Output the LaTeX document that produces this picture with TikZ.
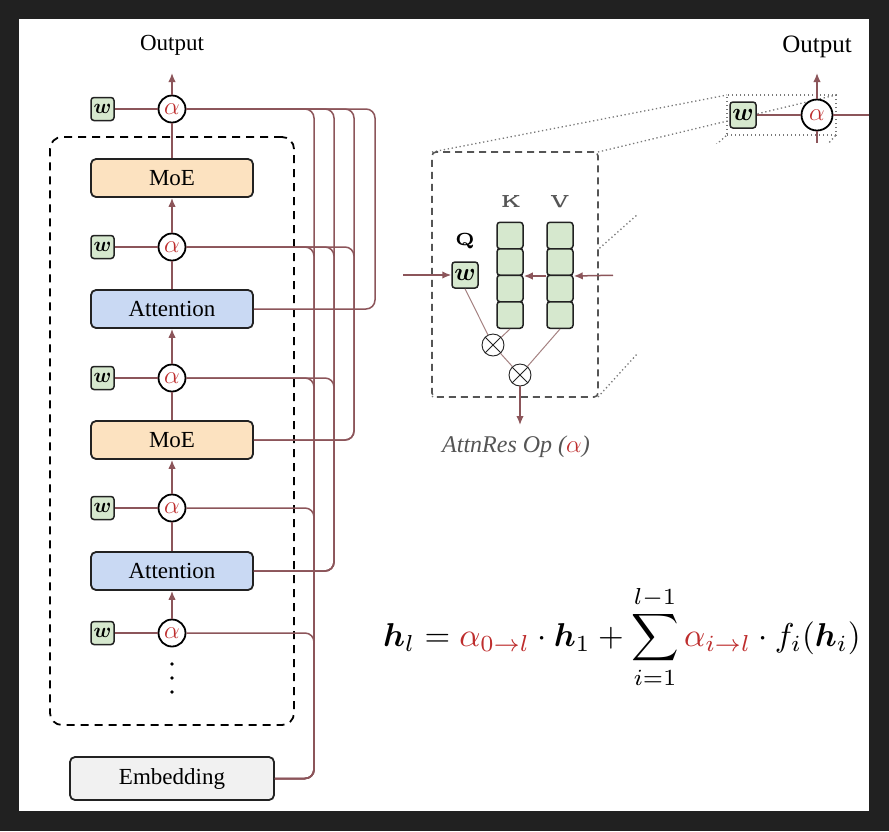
\documentclass[tikz,border=0pt]{standalone}
\usepackage[no-math]{fontspec}
\setmainfont{Liberation Serif}
\usepackage{amsmath,bm}
\usetikzlibrary{arrows.meta,calc}
\definecolor{framec}{RGB}{33,33,33}
\definecolor{linec}{RGB}{140,85,90}
\definecolor{alphared}{RGB}{190,45,45}
\definecolor{moefill}{RGB}{252,226,192}
\definecolor{attfill}{RGB}{201,217,243}
\definecolor{wfill}{RGB}{214,232,206}
\definecolor{embfill}{RGB}{241,241,241}
\definecolor{boxline}{RGB}{34,34,34}
\definecolor{insetgray}{RGB}{85,85,85}
\definecolor{dotgray}{RGB}{120,120,120}
\definecolor{thinline}{RGB}{165,130,130}
\tikzset{
  block/.style={draw=boxline, line width=1.8pt, rounded corners=5pt, minimum width=162pt, minimum height=38pt, font=\fontsize{23}{26}\selectfont, inner sep=0pt},
  moebox/.style={block, fill=moefill},
  attbox/.style={block, fill=attfill},
  embbox/.style={block, fill=embfill, minimum width=204pt, minimum height=43pt},
  wbox/.style={draw=boxline, line width=1.5pt, fill=wfill, rounded corners=3pt, minimum size=23pt, inner sep=0pt, font=\fontsize{21}{21}\selectfont},
  cell/.style={draw=boxline, line width=1.5pt, fill=wfill, rounded corners=3pt, minimum width=26pt, minimum height=26.5pt, inner sep=0pt},
  anode/.style={circle, draw=black, line width=1.8pt, fill=white, minimum size=27pt, inner sep=0pt, font=\fontsize{25}{25}\selectfont, text=alphared},
  otimesnode/.style={circle, draw=boxline, line width=0.9pt, fill=white, minimum size=22pt, inner sep=0pt},
  conn/.style={draw=linec, line width=1.5pt},
  arr/.style={conn, -{Latex[length=9pt,width=7.5pt]}},
  bus/.style={conn, rounded corners=9pt},
  thinconn/.style={draw=thinline, line width=1pt},
  groupbox/.style={draw=black, line width=1.8pt, dash pattern=on 8pt off 6pt, rounded corners=12pt, minimum width=244pt, minimum height=588pt, inner sep=0pt},
  insetbox/.style={draw=insetgray, fill=white, line width=1.6pt, dash pattern=on 7pt off 5pt, rounded corners=4pt, minimum width=166pt, minimum height=245pt, inner sep=0pt},
  zoomrect/.style={draw=dotgray, line width=1.3pt, dash pattern=on 1.3pt off 2.7pt, minimum width=109pt, minimum height=40pt, inner sep=0pt},
  dotline/.style={draw=dotgray, line width=1.3pt, dash pattern=on 1.3pt off 2.7pt},
  lbl/.style={font=\fontsize{23}{26}\selectfont, inner sep=0pt},
  kvq/.style={scale=3.5, inner sep=0pt},
}
\begin{document}
\begin{tikzpicture}[x=1pt,y=-1pt]
\useasboundingbox (0,0) rectangle (889,831);
\fill[framec] (0,0) rectangle (889,831);
\fill[white] (19,19) rectangle (869,811);

% ---------- left stack ----------
\node[groupbox] (stack) at (172,431) {};
\node[anode] (a1) at (172,109) {$\alpha$};
\node[anode] (a2) at (172,247) {$\alpha$};
\node[anode] (a3) at (172,378) {$\alpha$};
\node[anode] (a4) at (172,508) {$\alpha$};
\node[anode] (a5) at (172,633) {$\alpha$};
\node[wbox] (w1) at (102.5,109) {$\bm{w}$};
\node[wbox] (w2) at (102.5,247) {$\bm{w}$};
\node[wbox] (w3) at (102.5,378) {$\bm{w}$};
\node[wbox] (w4) at (102.5,508) {$\bm{w}$};
\node[wbox] (w5) at (102.5,633) {$\bm{w}$};
\node[moebox] (moe1) at (172,178) {MoE};
\node[attbox] (att1) at (172,309) {Attention};
\node[moebox] (moe2) at (172,440) {MoE};
\node[attbox] (att2) at (172,571) {Attention};
\node[embbox] (emb) at (172,778.5) {Embedding};
\node[lbl] (out1) at (172,45) {Output};
\coordinate (o1) at (172,73);
\fill (172,664) circle (1.8pt) (172,678) circle (1.8pt) (172,692) circle (1.8pt);

\foreach \k in {1,...,5} \draw[conn] (w\k.east) -- (a\k.west);
\draw[arr] (a1.north) -- (o1);
\draw[conn] (moe1.north) -- (a1.south);
\draw[arr] (a2.north) -- (moe1.south);
\draw[conn] (att1.north) -- (a2.south);
\draw[arr] (a3.north) -- (att1.south);
\draw[conn] (moe2.north) -- (a3.south);
\draw[arr] (a4.north) -- (moe2.south);
\draw[conn] (att2.north) -- (a4.south);
\draw[arr] (a5.north) -- (att2.south);

% bus x positions
\coordinate (xE) at (314,0);
\coordinate (xA2) at (334,0);
\coordinate (xM2) at (354,0);
\coordinate (xA1) at (375,0);
\draw[bus] (a1.east) -| (xA1 |- att1.east) -- (att1.east);
\draw[bus] (a1.east) -| (xM2 |- moe2.east) -- (moe2.east);
\draw[bus] (a1.east) -| (xA2 |- att2.east) -- (att2.east);
\draw[bus] (a1.east) -| (xE |- emb.east) -- (emb.east);
\draw[bus] (a2.east) -| (xM2 |- moe2.east) -- (moe2.east);
\draw[bus] (a2.east) -| (xA2 |- att2.east) -- (att2.east);
\draw[bus] (a2.east) -| (xE |- emb.east) -- (emb.east);
\draw[bus] (a3.east) -| (xA2 |- att2.east) -- (att2.east);
\draw[bus] (a3.east) -| (xE |- emb.east) -- (emb.east);
\draw[bus] (a4.east) -| (xE |- emb.east) -- (emb.east);
\draw[bus] (a5.east) -| (xE |- emb.east) -- (emb.east);

% ---------- zoom projection ----------
\coordinate (inNW) at (432,152);
\coordinate (inNE) at (598,152);
\coordinate (inSW) at (432,397);
\coordinate (inSE) at (598,397);
\coordinate (zNW) at (727,95);
\coordinate (zNE) at (836,95);
\coordinate (zSW) at (727,135);
\coordinate (zSE) at (836,135);
\draw[dotline] (inNW) -- (zNW);
\draw[dotline] (inNE) -- (zNE);
\draw[dotline] (inSW) -- (zSW);
\draw[dotline] (inSE) -- (zSE);
\fill[white] (637,144) rectangle (869,811);

% ---------- inset ----------
\node[insetbox] (inset) at (515,274.5) {};
\node[wbox, minimum size=26pt, font=\fontsize{25}{25}\selectfont] (qw) at (465,275) {$\bm{w}$};
\node[cell] (k1) at (510,235.5) {};
\node[cell] (k2) at (510,262) {};
\node[cell] (k3) at (510,288.5) {};
\node[cell] (k4) at (510,315) {};
\node[cell] (v1) at (560,235.5) {};
\node[cell] (v2) at (560,262) {};
\node[cell] (v3) at (560,288.5) {};
\node[cell] (v4) at (560,315) {};
\node[kvq, text=insetgray] (lk) at (511,201) {$\scriptscriptstyle\mathbf{K}$};
\node[kvq, text=insetgray] (lv) at (560,201) {$\scriptscriptstyle\mathbf{V}$};
\node[kvq] (lq) at (465,241) {$\scriptscriptstyle\mathbf{Q}$};
\node[otimesnode] (ox1) at (493,345) {};
\node[otimesnode] (ox2) at (520,375) {};
\draw[line width=0.9pt, boxline] (ox1.north west) -- (ox1.south east) (ox1.north east) -- (ox1.south west);
\draw[line width=0.9pt, boxline] (ox2.north west) -- (ox2.south east) (ox2.north east) -- (ox2.south west);
\draw[thinconn] (qw.south) -- (ox1);
\draw[thinconn] (k4.south) -- (ox1);
\draw[thinconn] (ox1) -- (ox2);
\draw[thinconn] (v4.south) -- (ox2);
\coordinate (qin) at (403,275);
\coordinate (vin) at (613,275.25);
\coordinate (opout) at (520,425);
\draw[arr] (qin) -- (qw.west);
\draw[arr] (v2.south west) -- (k2.south east);
\draw[arr] (vin) -- (v2.south east);
\draw[arr] (ox2.south) -- (opout);
\node[font=\itshape\fontsize{24}{26}\selectfont, text=insetgray, inner sep=0pt] (oplabel) at (516,447) {AttnRes Op ($\textcolor{alphared}{\alpha}$)};

% ---------- top-right zoomed op ----------
\node[zoomrect] (zr) at (781.5,115) {};
\node[wbox, minimum size=26pt, font=\fontsize{24}{24}\selectfont] (w6) at (743,115) {$\bm{w}$};
\node[anode, minimum size=31pt, font=\fontsize{28}{28}\selectfont] (a6) at (817,115) {$\alpha$};
\node[lbl, font=\fontsize{25}{28}\selectfont] (out2) at (817,47) {Output};
\coordinate (o2) at (817,73);
\coordinate (d2) at (817,143);
\coordinate (r2) at (869,115);
\draw[conn] (w6.east) -- (a6.west);
\draw[arr] (a6.north) -- (o2);
\draw[conn] (a6.south) -- (d2);
\draw[conn] (a6.east) -- (r2);

% ---------- formula ----------
\node[inner sep=0pt, scale=3.3] (eq) at (622,637) {$\displaystyle \bm{h}_l = \textcolor{alphared}{\alpha_{0\to l}}\cdot \bm{h}_1 + \sum_{i=1}^{l-1} \textcolor{alphared}{\alpha_{i\to l}}\cdot f_i(\bm{h}_i)$};
\end{tikzpicture}
\end{document}
